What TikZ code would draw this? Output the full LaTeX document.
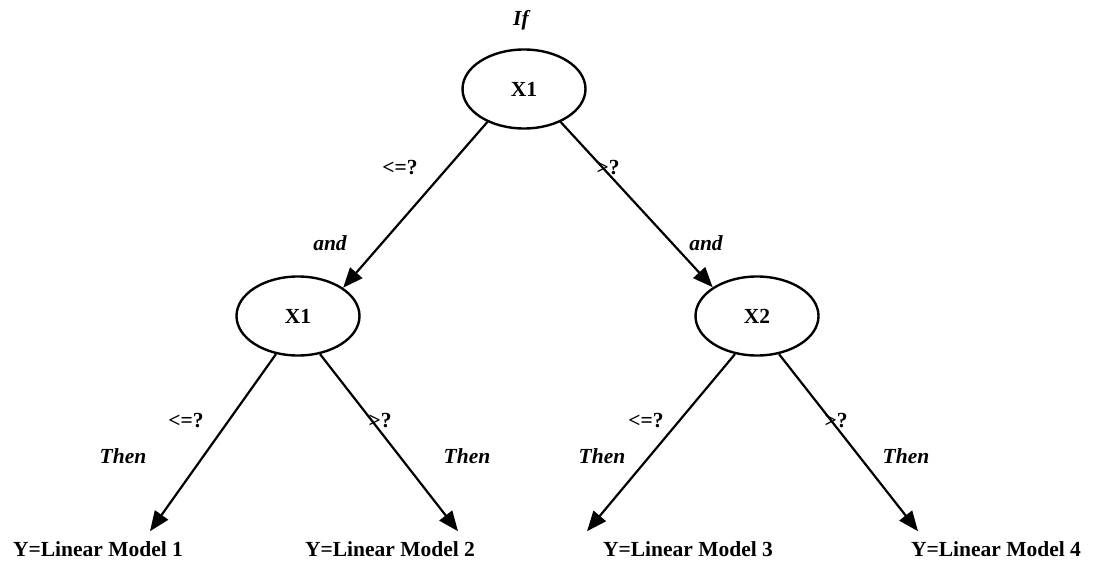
\documentclass[tikz,border=0pt]{standalone}
\usepackage{fontspec}
\setmainfont{Liberation Serif}
\usetikzlibrary{arrows.meta,shapes.geometric}
\begin{document}
\begin{tikzpicture}[x=1pt,y=-1pt,
  font=\fontsize{21.5}{23}\selectfont\bfseries,
  oval/.style={draw,line width=2.4pt,ellipse,minimum width=123pt,minimum height=79pt,inner sep=0pt},
  conn/.style={line width=2.2pt,-{Triangle[length=20pt,width=16pt]}},
  lbl/.style={inner sep=0pt},
  ilbl/.style={inner sep=0pt,font=\fontsize{21.5}{23}\selectfont\bfseries\itshape}]
\useasboundingbox (0,0) rectangle (1099,561);
\node[ilbl] (if) at (521,20) {If};
\node[oval] (root) at (524,89) {X1};
\node[oval] (l) at (298,316) {X1};
\node[oval] (r) at (757,316) {X2};
\node[lbl] (m1) at (98,549) {Y=Linear Model 1};
\node[lbl] (m2) at (390,549) {Y=Linear Model 2};
\node[lbl] (m3) at (688,549) {Y=Linear Model 3};
\node[lbl] (m4) at (996,549) {Y=Linear Model 4};
\draw[conn] (root.222) -- (l.32);
\draw[conn] (root.318) -- (r.147);
\draw[conn] (l.240) -- ([xshift=52pt,yshift=10pt]m1.north);
\draw[conn] (l.300) -- ([xshift=68pt,yshift=10pt]m2.north);
\draw[conn] (r.240) -- ([xshift=-101pt,yshift=10pt]m3.north);
\draw[conn] (r.300) -- ([xshift=-78pt,yshift=10pt]m4.north);
\node[lbl] (t1) at (400,168) {<=?};
\node[lbl] (t2) at (608,168) {>?};
\node[ilbl] (a1) at (330,243) {and};
\node[ilbl] (a2) at (706,243) {and};
\node[lbl] (t3) at (186,421) {<=?};
\node[lbl] (t4) at (380,421) {>?};
\node[lbl] (t5) at (646,421) {<=?};
\node[lbl] (t6) at (836,421) {>?};
\node[ilbl] (h1) at (123,456) {Then};
\node[ilbl] (h2) at (467,456) {Then};
\node[ilbl] (h3) at (602,456) {Then};
\node[ilbl] (h4) at (906,456) {Then};
\end{tikzpicture}
\end{document}
